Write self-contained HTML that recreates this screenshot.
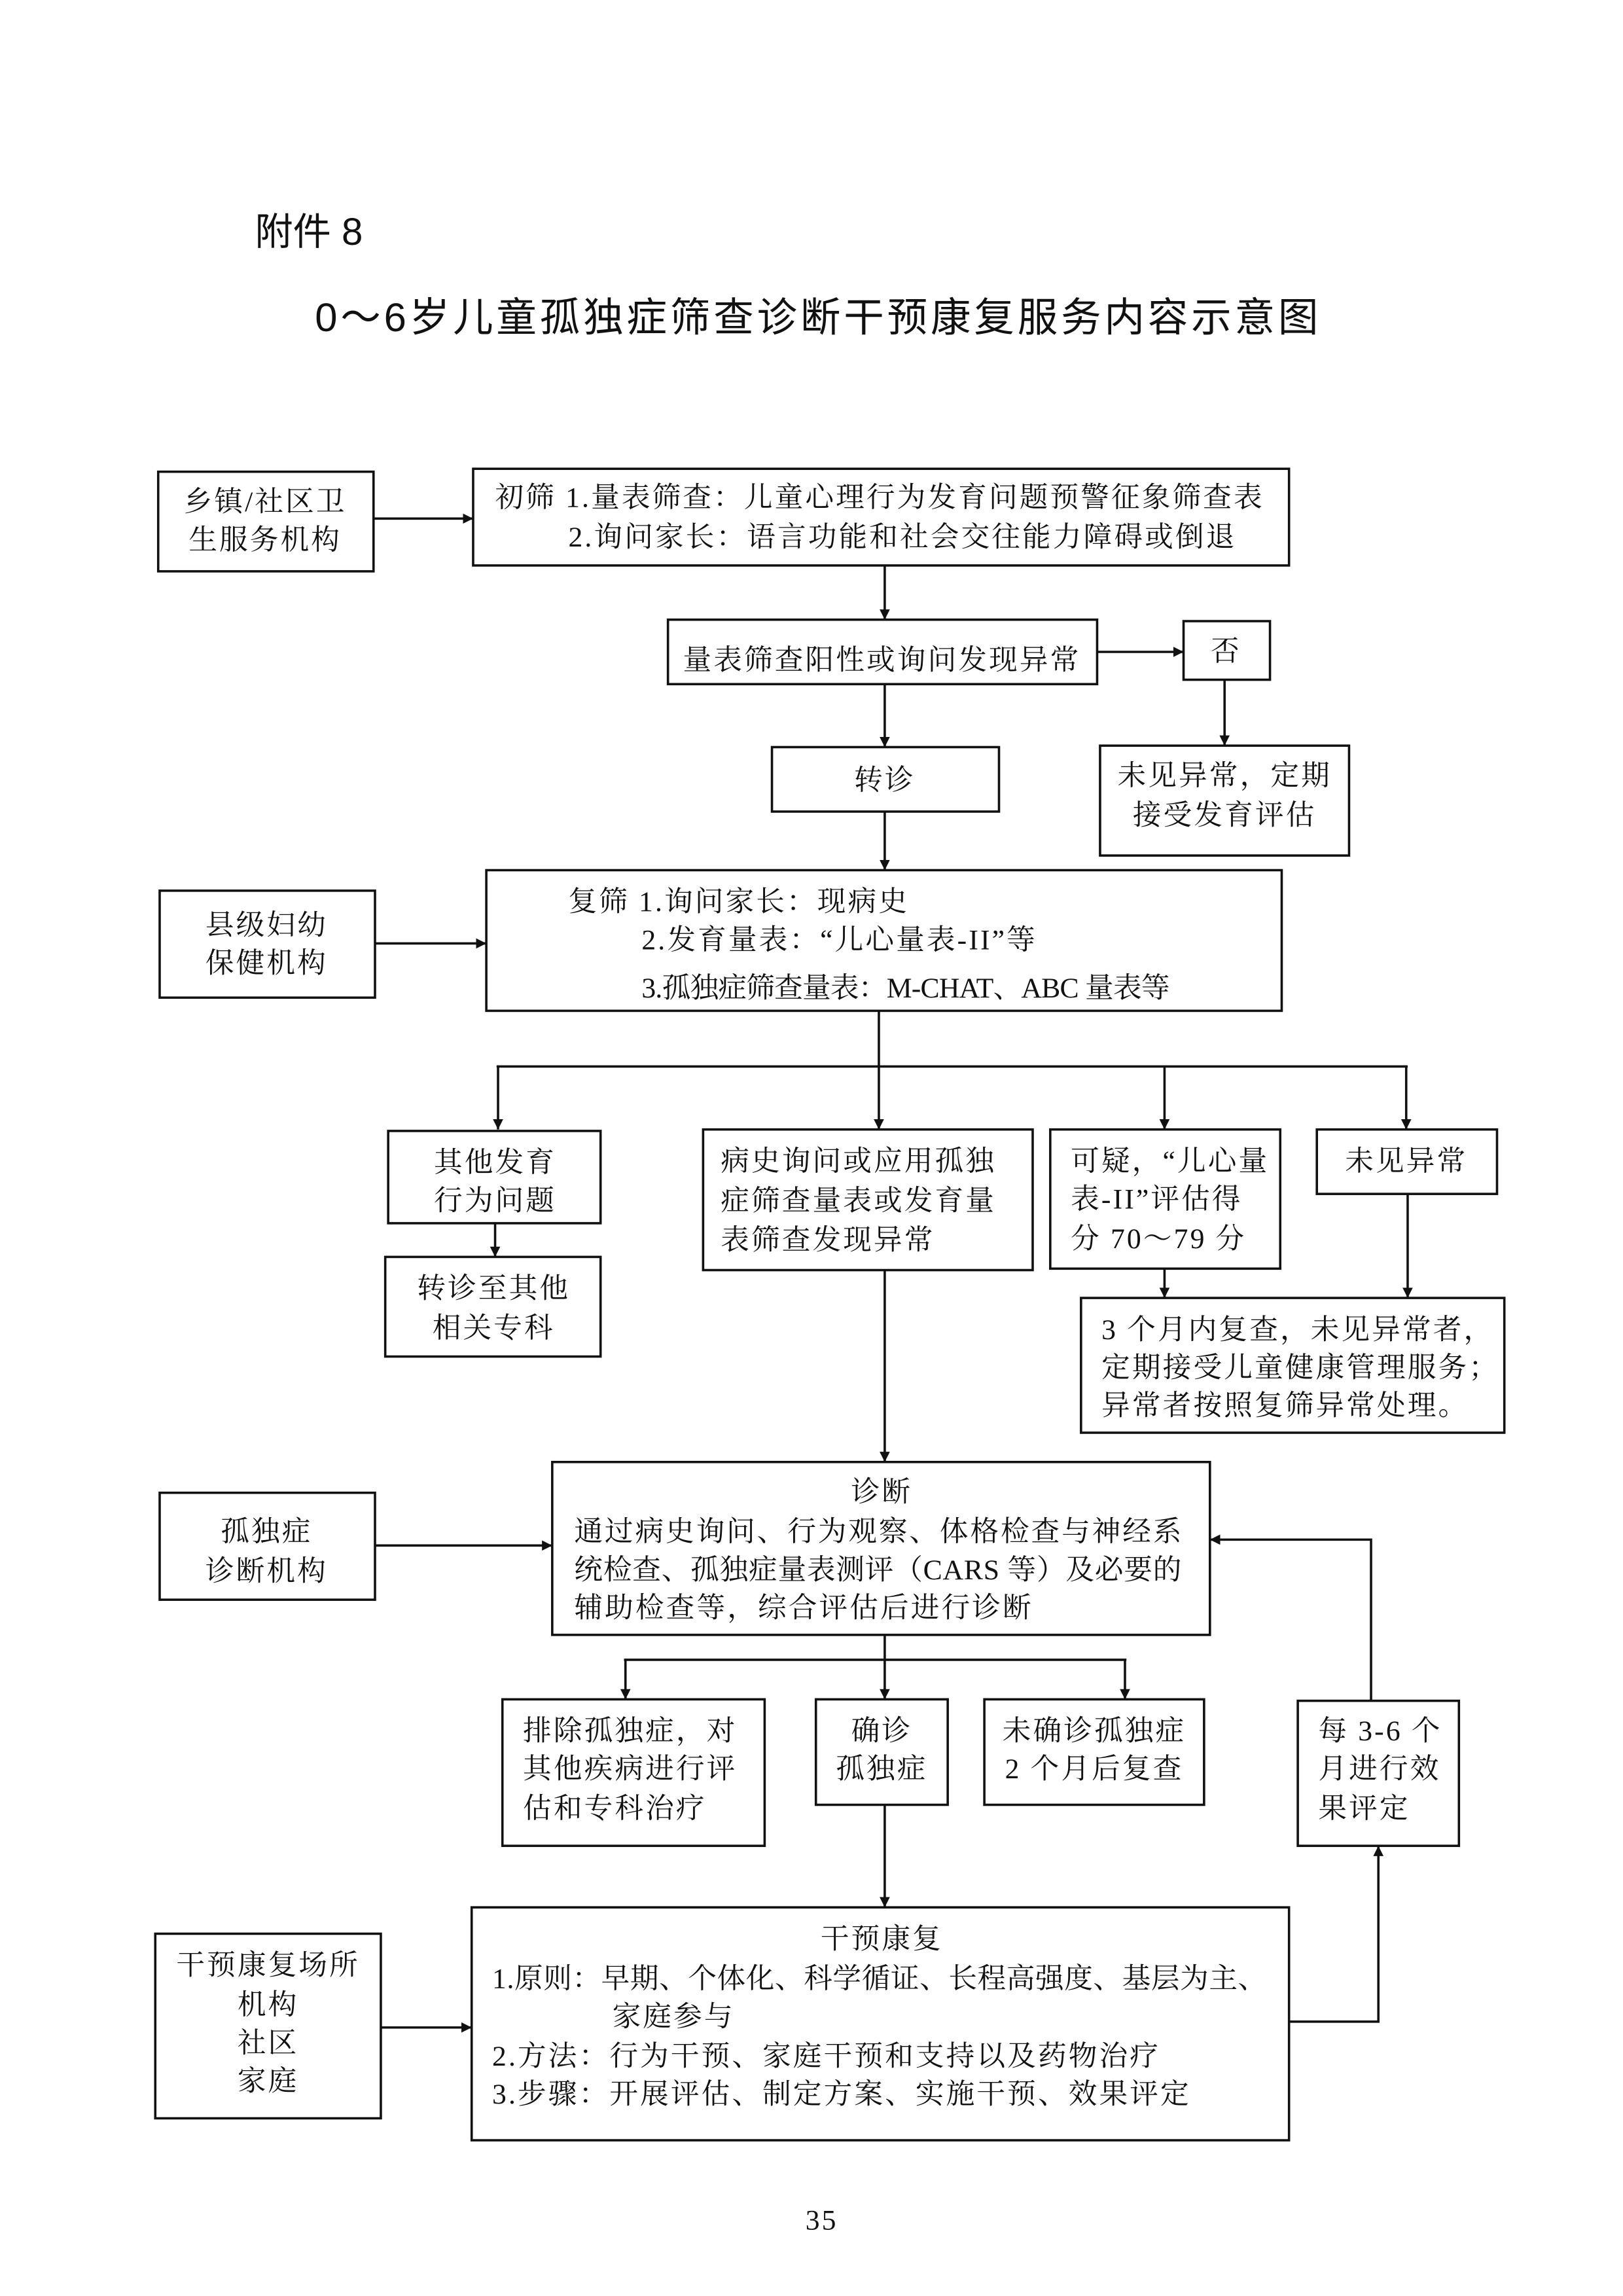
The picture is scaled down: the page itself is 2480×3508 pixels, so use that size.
<!DOCTYPE html>
<html><head><meta charset="utf-8"><style>
html,body{margin:0;padding:0;background:#fff;}
svg{display:block;}
.s{font-family:"Liberation Serif","Noto Serif CJK SC",serif;font-size:19.5px;fill:#111;letter-spacing:1.4px;}
.h{font-family:"Liberation Sans","Noto Sans CJK SC",sans-serif;fill:#111;}
rect{fill:none;stroke:#111;stroke-width:1.6;}
line,polyline{stroke:#111;stroke-width:1.6;fill:none;}
</style></head><body>
<svg width="2480" height="3508" viewBox="0 0 1108 1567.3" xmlns="http://www.w3.org/2000/svg">
<defs><marker id="a" viewBox="0 0 10 10" refX="10" refY="5" markerWidth="7" markerHeight="7" markerUnits="userSpaceOnUse" orient="auto"><path d="M0,0L10,5L0,10z" fill="#111"/></marker></defs>

<text class="h" x="174" y="167" font-size="26">附件 8</text>
<text class="h" x="215" y="226" font-size="27.5" textLength="685" lengthAdjust="spacing">0～6岁儿童孤独症筛查诊断干预康复服务内容示意图</text>

<rect x="108" y="322" width="147" height="68"/>
<text class="s" x="181" y="349" text-anchor="middle">乡镇/社区卫</text>
<text class="s" x="181" y="375" text-anchor="middle">生服务机构</text>

<rect x="323" y="320" width="557" height="66"/>
<text class="s" x="338" y="346">初筛 1.量表筛查：儿童心理行为发育问题预警征象筛查表</text>
<text class="s" x="388" y="373">2.询问家长：语言功能和社会交往能力障碍或倒退</text>

<rect x="456" y="423" width="293" height="44"/>
<text class="s" x="602" y="457" text-anchor="middle">量表筛查阳性或询问发现异常</text>

<rect x="808" y="424" width="59" height="40"/>
<text class="s" x="837" y="451" text-anchor="middle">否</text>

<rect x="527" y="510" width="155" height="44"/>
<text class="s" x="604" y="539" text-anchor="middle">转诊</text>

<rect x="751" y="509" width="170" height="75"/>
<text class="s" x="836" y="536" text-anchor="middle">未见异常，定期</text>
<text class="s" x="836" y="563" text-anchor="middle">接受发育评估</text>

<rect x="109" y="608" width="147" height="73"/>
<text class="s" x="182" y="638" text-anchor="middle">县级妇幼</text>
<text class="s" x="182" y="664" text-anchor="middle">保健机构</text>

<rect x="332" y="594" width="543" height="96"/>
<text class="s" x="388" y="622">复筛 1.询问家长：现病史</text>
<text class="s" x="438" y="648">2.发育量表：“儿心量表-II”等</text>
<text class="s" x="438" y="681" textLength="362" lengthAdjust="spacing">3.孤独症筛查量表：M-CHAT、ABC 量表等</text>

<line x1="600" y1="690" x2="600" y2="728"/>
<line x1="339" y1="728" x2="961" y2="728"/>
<line x1="340" y1="728" x2="340" y2="771" marker-end="url(#a)"/>
<line x1="600" y1="728" x2="600" y2="771" marker-end="url(#a)"/>
<line x1="795" y1="728" x2="795" y2="771" marker-end="url(#a)"/>
<line x1="960" y1="728" x2="960" y2="771" marker-end="url(#a)"/>

<rect x="265" y="772" width="145" height="63"/>
<text class="s" x="338" y="800" text-anchor="middle">其他发育</text>
<text class="s" x="338" y="826" text-anchor="middle">行为问题</text>

<rect x="263" y="858" width="147" height="68"/>
<text class="s" x="337" y="886" text-anchor="middle">转诊至其他</text>
<text class="s" x="337" y="913" text-anchor="middle">相关专科</text>

<rect x="480" y="771" width="225" height="96"/>
<text class="s" x="492" y="799">病史询问或应用孤独</text>
<text class="s" x="492" y="826">症筛查量表或发育量</text>
<text class="s" x="492" y="853">表筛查发现异常</text>

<rect x="717" y="771" width="157" height="95"/>
<text class="s" x="731" y="799">可疑，“儿心量</text>
<text class="s" x="731" y="825">表-II”评估得</text>
<text class="s" x="731" y="852">分 70～79 分</text>

<rect x="899" y="771" width="123" height="44"/>
<text class="s" x="960" y="799" text-anchor="middle">未见异常</text>

<rect x="738" y="886" width="289" height="92"/>
<text class="s" x="752" y="914">3 个月内复查，未见异常者，</text>
<text class="s" x="752" y="940">定期接受儿童健康管理服务；</text>
<text class="s" x="752" y="966">异常者按照复筛异常处理。</text>

<rect x="109" y="1019" width="147" height="73"/>
<text class="s" x="182" y="1052" text-anchor="middle">孤独症</text>
<text class="s" x="182" y="1079" text-anchor="middle">诊断机构</text>

<rect x="377" y="998" width="449" height="118"/>
<text class="s" x="602" y="1025" text-anchor="middle">诊断</text>
<text class="s" x="392" y="1052" textLength="416" lengthAdjust="spacing">通过病史询问、行为观察、体格检查与神经系</text>
<text class="s" x="392" y="1078" textLength="416" lengthAdjust="spacing">统检查、孤独症量表测评（CARS 等）及必要的</text>
<text class="s" x="392" y="1104">辅助检查等，综合评估后进行诊断</text>

<line x1="604" y1="1116" x2="604" y2="1133"/>
<line x1="426" y1="1133" x2="769" y2="1133"/>
<line x1="427" y1="1133" x2="427" y2="1160" marker-end="url(#a)"/>
<line x1="604" y1="1133" x2="604" y2="1160" marker-end="url(#a)"/>
<line x1="768" y1="1133" x2="768" y2="1160" marker-end="url(#a)"/>

<rect x="343" y="1160" width="179" height="100"/>
<text class="s" x="357" y="1188">排除孤独症，对</text>
<text class="s" x="357" y="1214">其他疾病进行评</text>
<text class="s" x="357" y="1241">估和专科治疗</text>

<rect x="557" y="1160" width="90" height="72"/>
<text class="s" x="602" y="1188" text-anchor="middle">确诊</text>
<text class="s" x="602" y="1214" text-anchor="middle">孤独症</text>

<rect x="672" y="1160" width="150" height="72"/>
<text class="s" x="747" y="1188" text-anchor="middle">未确诊孤独症</text>
<text class="s" x="747" y="1214" text-anchor="middle">2 个月后复查</text>

<rect x="886" y="1161" width="110" height="99"/>
<text class="s" x="900" y="1188">每 3-6 个</text>
<text class="s" x="900" y="1214">月进行效</text>
<text class="s" x="900" y="1241">果评定</text>

<rect x="322" y="1302" width="558" height="159"/>
<text class="s" x="602" y="1330" text-anchor="middle">干预康复</text>
<text class="s" x="336" y="1357" textLength="530" lengthAdjust="spacing">1.原则：早期、个体化、科学循证、长程高强度、基层为主、</text>
<text class="s" x="418" y="1383">家庭参与</text>
<text class="s" x="336" y="1410">2.方法：行为干预、家庭干预和支持以及药物治疗</text>
<text class="s" x="336" y="1436">3.步骤：开展评估、制定方案、实施干预、效果评定</text>

<rect x="106" y="1320" width="154" height="126"/>
<text class="s" x="183" y="1348" text-anchor="middle">干预康复场所</text>
<text class="s" x="183" y="1375" text-anchor="middle">机构</text>
<text class="s" x="183" y="1401" text-anchor="middle">社区</text>
<text class="s" x="183" y="1427" text-anchor="middle">家庭</text>

<line x1="255" y1="354" x2="323" y2="354" marker-end="url(#a)"/>
<line x1="604" y1="386" x2="604" y2="423" marker-end="url(#a)"/>
<line x1="749" y1="445" x2="808" y2="445" marker-end="url(#a)"/>
<line x1="836" y1="464" x2="836" y2="509" marker-end="url(#a)"/>
<line x1="604" y1="467" x2="604" y2="510" marker-end="url(#a)"/>
<line x1="604" y1="554" x2="604" y2="594" marker-end="url(#a)"/>
<line x1="256" y1="644" x2="332" y2="644" marker-end="url(#a)"/>
<line x1="338" y1="835" x2="338" y2="858" marker-end="url(#a)"/>
<line x1="795" y1="866" x2="795" y2="886" marker-end="url(#a)"/>
<line x1="961" y1="815" x2="961" y2="886" marker-end="url(#a)"/>
<line x1="604" y1="867" x2="604" y2="998" marker-end="url(#a)"/>
<line x1="256" y1="1055" x2="377" y2="1055" marker-end="url(#a)"/>
<line x1="604" y1="1232" x2="604" y2="1302" marker-end="url(#a)"/>
<line x1="260" y1="1384" x2="322" y2="1384" marker-end="url(#a)"/>
<polyline points="880,1380 941,1380 941,1260" marker-end="url(#a)"/>
<polyline points="936,1161 936,1051 826,1051" marker-end="url(#a)"/>

<text class="s" x="561" y="1522" text-anchor="middle" font-size="16">35</text>
</svg>
</body></html>
